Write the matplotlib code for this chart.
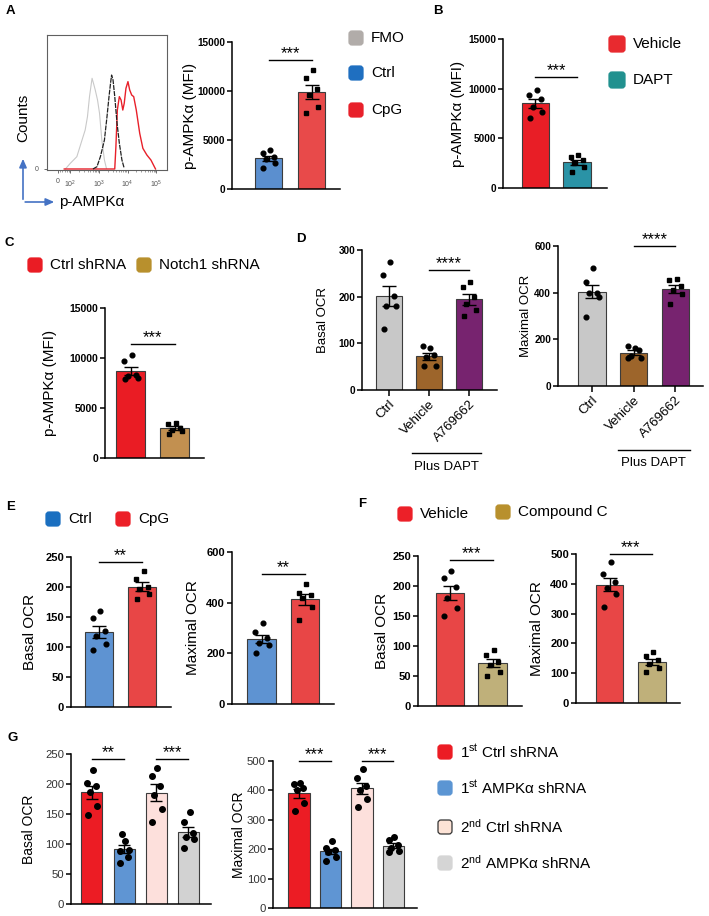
import numpy as np
import matplotlib
matplotlib.use("Agg")
import matplotlib.pyplot as plt
from matplotlib.patches import FancyBboxPatch
from matplotlib.ticker import MultipleLocator
import matplotlib.transforms as mtrans

plt.rcParams['font.family'] = ['Liberation Sans', 'DejaVu Sans']
plt.rcParams['mathtext.fontset'] = 'custom'
plt.rcParams['mathtext.rm'] = 'Liberation Sans'
plt.rcParams['mathtext.it'] = 'Liberation Sans:italic'
plt.rcParams['mathtext.bf'] = 'Liberation Sans:bold'

# --- A: flow histogram (x = log10 intensity, y = % of max) ---
fmo_x = [1.83, 2.00, 2.23, 2.41, 2.52, 2.60, 2.67, 2.76, 2.81, 2.87, 2.95, 3.02, 3.10, 3.19, 3.26]
fmo_y = [0, 4.2, 9.2, 21.6, 29.1, 39.1, 54.0, 67.7, 63.9, 59.0, 51.5, 41.5, 21.6, 6.7, 0.5]
ctrl_x = [2.79, 2.93, 3.05, 3.19, 3.28, 3.35, 3.41, 3.44, 3.49, 3.55, 3.63, 3.71, 3.80, 3.88]
ctrl_y = [0, 1.7, 9.2, 21.6, 39.1, 54.0, 65.2, 70.1, 66.4, 54.0, 34.1, 19.2, 6.7, 0.5]
cpg_x = [1.79, 3.55, 3.59, 3.64, 3.71, 3.77, 3.83, 3.88, 3.94, 4.01, 4.07, 4.14, 4.21,
         4.30, 4.42, 4.53, 4.67, 4.81, 4.91, 4.97]
cpg_y = [0, 0, 16.7, 44.0, 54.0, 51.5, 44.0, 49.0, 60.2, 65.2, 59.0, 55.2, 54.0,
         44.0, 26.6, 15.4, 10.4, 6.7, 2.5, 0]
hist_ticks = [1.57, 2, 3, 4, 5]
hist_ticklabels = ['0', '$10^2$', '$10^3$', '$10^4$', '$10^5$']

# --- A: p-AMPKa MFI ---
a_ctrl = [3980, 3640, 3300, 3030, 2620, 2110]
a_cpg = [12140, 11290, 10170, 9590, 8400, 7720]
a_legend = ['FMO', 'Ctrl', 'CpG']

# --- B ---
b_vehicle = [9870, 9370, 8930, 8190, 7690, 7020]
b_dapt = [3320, 3150, 2820, 2490, 2150, 1640]
b_legend = ['Vehicle', 'DAPT']

# --- C ---
c_ctrl = [10300, 9700, 8300, 8200, 7970, 7900]
c_notch = [3550, 3400, 3000, 2850, 2700, 2450]
c_legend = ['Ctrl shRNA', 'Notch1 shRNA']

# --- D ---
d_groups = ['Ctrl', 'Vehicle', 'A769662']
d_basal_ctrl = [275, 246, 202, 180, 180, 130]
d_basal_veh = [89, 95, 74, 71, 52, 52]
d_basal_a76 = [232, 220, 200, 185, 172, 158]
d_max_ctrl = [504, 447, 400, 400, 380, 297]
d_max_veh = [165, 172, 155, 128, 118, 122]
d_max_a76 = [460, 455, 430, 410, 395, 350]

# --- E ---
e_basal_ctrl = [160, 148, 126, 118, 105, 95]
e_basal_cpg = [226, 214, 200, 196, 188, 180]
e_max_ctrl = [318, 285, 262, 240, 232, 200]
e_max_cpg = [474, 438, 430, 420, 383, 332]
e_legend = ['Ctrl', 'CpG']

# --- F ---
f_basal_veh = [225, 213, 199, 180, 163, 150]
f_basal_cc = [93, 85, 73, 68, 57, 50]
f_max_veh = [473, 432, 405, 385, 365, 323]
f_max_cc = [170, 158, 145, 130, 118, 103]
f_legend = ['Vehicle', 'Compound C']

# --- G ---
g_basal = [[223, 201, 196, 187, 163, 148],
           [105, 89, 79, 116, 90, 69],
           [227, 213, 197, 182, 159, 137],
           [153, 136, 119, 111, 109, 93]]
g_max = [[426, 422, 407, 401, 356, 331],
         [228, 203, 197, 191, 175, 161],
         [472, 443, 415, 401, 370, 345],
         [240, 231, 214, 203, 195, 191]]
g_legend = [r'1$^{\mathrm{st}}$ Ctrl shRNA', r'1$^{\mathrm{st}}$ AMPKα shRNA',
            r'2$^{\mathrm{nd}}$ Ctrl shRNA', r'2$^{\mathrm{nd}}$ AMPKα shRNA']

JITTER = np.array([0.05, -0.22, 0.2, -0.1, 0.25, -0.2])

W, H = 709, 916
fig = plt.figure(figsize=(W / 100, H / 100), dpi=100)
ov = fig.add_axes([0, 0, 1, 1], zorder=-1)
ov.set_xlim(0, W)
ov.set_ylim(H, 0)
ov.axis('off')


def px_axes(x0, y0, x1, y1):
    return fig.add_axes([x0 / W, 1 - y1 / H, (x1 - x0) / W, (y1 - y0) / H])


def legend_item(x, y, color, label, edge=None, size=14, fs=11):
    ov.add_patch(FancyBboxPatch((x, y - size / 2), size, size,
                                boxstyle='round,pad=0,rounding_size=3',
                                fc=color, ec=edge or color, lw=0.9))
    ov.text(x + size + 8, y, label, va='center', ha='left', fontsize=fs)


def bar_panel(box, series, colors, markers, ymax, ystep, xlim, width, ylabel, label_x,
              sigs, tick_fs=7.2, bold=True, ms=3.4, capsize=5, label_fs=11,
              tick_color='black'):
    ax = px_axes(*box)
    for i, (vals, col, mk) in enumerate(zip(series, colors, markers)):
        vals = np.asarray(vals, float)
        m = vals.mean()
        se = vals.std(ddof=1) / np.sqrt(len(vals))
        ax.bar(i, m, width=width, color=col, edgecolor='#3c3c3c', linewidth=0.8, zorder=2)
        ax.errorbar(i, m, yerr=se, fmt='none', ecolor='black', elinewidth=1,
                    capsize=capsize, capthick=1, zorder=3, clip_on=False)
        ax.plot(i + JITTER[:len(vals)] * width, vals, ls='none', marker=mk,
                color='black', ms=ms, zorder=4, clip_on=False)
    ax.set_xlim(*xlim)
    ax.set_ylim(0, ymax)
    ax.yaxis.set_major_locator(MultipleLocator(ystep))
    for s in ['top', 'right']:
        ax.spines[s].set_visible(False)
    for s in ['left', 'bottom']:
        ax.spines[s].set_linewidth(1.1)
    ax.set_xticks([])
    ax.tick_params(axis='y', length=3.5, width=1.1, labelsize=tick_fs, pad=1.5,
                   labelcolor=tick_color)
    plt.setp(ax.get_yticklabels(), fontweight='bold' if bold else 'normal')
    for i0, i1, y, stars in sigs:
        ax.plot([i0, i1], [y, y], color='black', lw=1, clip_on=False)
        ax.text((i0 + i1) / 2, y + ymax * 0.012, stars, ha='center', va='baseline',
                fontsize=12)
    ov.text(label_x, (box[1] + box[3]) / 2, ylabel, rotation=90, ha='center',
            va='center', fontsize=label_fs)
    return ax


# panel letters
for letter, (lx, ly) in zip('ABCDEFG', [(10, 11), (438, 11), (9, 243), (301, 239),
                                         (11, 507), (362, 504), (13, 738)]):
    ov.text(lx, ly, letter, ha='center', va='center', fontsize=9.5, fontweight='bold')

# ---------- A: histogram ----------
hx = px_axes(47, 35, 167, 170)
hx.plot(fmo_x, fmo_y, color='#c9c9c9', lw=0.8)
hx.plot(cpg_x, cpg_y, color='#e8202a', lw=1.0)
hx.plot(ctrl_x, ctrl_y, color='#202020', lw=0.9, ls=(0, (4, 0.8)))
hx.set_xlim(1.19, 5.37)
hx.set_ylim(-0.75, 100)
for s in hx.spines.values():
    s.set_color('#606060')
    s.set_linewidth(0.8)
hx.set_xticks(hist_ticks, hist_ticklabels)
minor = [np.log10(k * 10.0 ** d) for d in (2, 3, 4) for k in range(2, 10)]
minor += [1.65, 1.72, 1.8, 1.88, 1.95]
hx.set_xticks(minor, minor=True)
hx.set_yticks([0], ['0'])
hx.tick_params(axis='both', which='major', length=2, width=0.6, labelsize=5,
               labelcolor='#555555', color='#555555', pad=4)
hx.tick_params(axis='x', which='minor', length=1.2, width=0.4, color='#555555')
ov.text(23, 118, 'Counts', rotation=90, ha='center', va='center', fontsize=11)
arrow_kw = dict(arrowstyle='-|>,head_length=0.5,head_width=0.22', color='#4472c4', lw=1.2)
ov.annotate('', xy=(23, 156), xytext=(23, 202), arrowprops=arrow_kw)
ov.annotate('', xy=(57, 202), xytext=(22.4, 202), arrowprops=arrow_kw)
ov.text(59, 202, 'p-AMPKα', ha='left', va='center', fontsize=11)

# ---------- A: bars ----------
bar_panel((232, 42, 340, 189), [a_ctrl, a_cpg], ['#5b8fcf', '#e84a4a'], ['o', 's'],
          15000, 5000, (-0.85, 1.66), 0.63, 'p-AMPKα (MFI)', 190,
          [(0, 1, 13200, '***')])
for lab, col, yy in zip(a_legend, ['#b1aca9', '#1f6fc0', '#e8202a'], [38, 73, 110]):
    legend_item(349, yy, col, lab)

# ---------- B ----------
bar_panel((503, 39, 607, 188), [b_vehicle, b_dapt], ['#e81e26', '#2a93a6'], ['o', 's'],
          15000, 5000, (-0.78, 1.72), 0.66, 'p-AMPKα (MFI)', 458,
          [(0, 1, 11180, '***')])
for lab, col, yy in zip(b_legend, ['#e82a2f', '#21918f'], [44, 80]):
    legend_item(609, yy, col, lab, size=16)

# ---------- C ----------
bar_panel((105, 308, 204, 458), [c_ctrl, c_notch], ['#ea1c24', '#c29050'], ['o', 's'],
          15000, 5000, (-0.58, 1.67), 0.66, 'p-AMPKα (MFI)', 50,
          [(0, 1, 11400, '***')], tick_fs=7.5)
legend_item(28, 265, '#ea1c24', c_legend[0])
legend_item(137, 265, '#b8902d', c_legend[1])

# ---------- D ----------
d_cols = ['#c8c8c8', '#9d652b', '#77236f']
for box, series, ymax, ystep, xlim, lab, lx, sig_y, line_y, text_y, l0, l1 in [
        ((362, 250, 497, 390), [d_basal_ctrl, d_basal_veh, d_basal_a76], 300, 100,
         (-0.675, 2.7), 'Basal OCR', 323, 257, -0.45, -0.55, 0.575, 2.3),
        ((558, 246, 703, 386), [d_max_ctrl, d_max_veh, d_max_a76], 600, 200,
         (-0.81, 2.66), 'Maximal OCR', 526, 600, -0.457, -0.55, 0.62, 2.35)]:
    ax = bar_panel(box, series, d_cols, ['o', 'o', 's'], ymax, ystep, xlim, 0.66, lab, lx,
                   [(1, 2, sig_y, '****')], tick_fs=7.2, label_fs=9.5)
    ax.set_xticks(range(3), d_groups, rotation=45, ha='right', rotation_mode='anchor',
                  fontsize=9.5)
    ax.tick_params(axis='x', length=4, width=1.1, pad=2)
    tr = mtrans.blended_transform_factory(ax.transData, ax.transAxes)
    ax.plot([l0, l1], [line_y, line_y], color='black', lw=1, transform=tr, clip_on=False)
    ax.text((l0 + l1) / 2, text_y, 'Plus DAPT', transform=tr, ha='center', va='center',
            fontsize=9.5)

# ---------- E ----------
bar_panel((71, 557, 171, 707), [e_basal_ctrl, e_basal_cpg], ['#5e93d2', '#e84646'],
          ['o', 's'], 250, 50, (-0.65, 1.67), 0.65, 'Basal OCR', 30,
          [(0, 1, 242, '**')], tick_fs=8)
bar_panel((232, 552, 334, 704), [e_max_ctrl, e_max_cpg], ['#5e93d2', '#e84646'],
          ['o', 's'], 600, 200, (-0.68, 1.67), 0.655, 'Maximal OCR', 193,
          [(0, 1, 513, '**')], tick_fs=8)
legend_item(46, 519, '#1a6fc0', e_legend[0])
legend_item(116, 519, '#ec2028', e_legend[1])

# ---------- F ----------
bar_panel((418, 556, 522, 706), [f_basal_veh, f_basal_cc], ['#e84646', '#bfb07a'],
          ['o', 's'], 250, 50, (-0.75, 1.69), 0.67, 'Basal OCR', 382,
          [(0, 1, 243, '***')], tick_fs=8)
bar_panel((576, 554, 680, 703), [f_max_veh, f_max_cc], ['#e84646', '#bfb07a'],
          ['o', 's'], 500, 100, (-0.79, 1.66), 0.65, 'Maximal OCR', 537,
          [(0, 1, 500, '***')], tick_fs=8)
legend_item(398, 514, '#ec2028', f_legend[0])
legend_item(496, 512, '#b8902d', f_legend[1])

# ---------- G ----------
g_cols = ['#ec1c24', '#5f95d3', '#fde0dc', '#d2d2d2']
bar_panel((71, 754, 211, 904), g_basal, g_cols, ['o'] * 4, 250, 50, (-0.65, 3.7), 0.65,
          'Basal OCR', 29, [(0, 1, 242, '**'), (2, 3, 242, '***')], tick_fs=8.2,
          bold=False, ms=4, capsize=4, label_fs=10, tick_color='#333333')
bar_panel((273, 761, 417, 908), g_max, g_cols, ['o'] * 4, 500, 100, (-0.83, 3.75), 0.68,
          'Maximal OCR', 239, [(0, 1, 500, '***'), (2, 3, 500, '***')], tick_fs=8.2,
          bold=False, ms=4, capsize=4, label_fs=10, tick_color='#333333')
for lab, col, edge, yy in zip(g_legend, ['#ec1c24', '#5b95d3', '#fde3d6', '#d5d5d5'],
                              [None, None, '#333333', None], [752, 788, 827, 863]):
    legend_item(438, yy, col, lab, edge=edge)

fig.savefig('out.png', dpi=100)
